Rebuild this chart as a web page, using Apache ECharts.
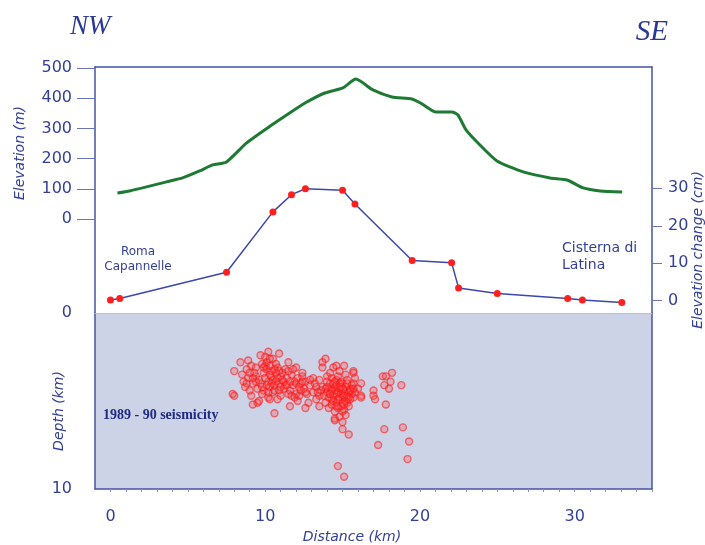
<!DOCTYPE html>
<html>
<head>
<meta charset="utf-8">
<script src="https://cdn.jsdelivr.net/npm/echarts@6/dist/echarts.min.js"></script>
<style>
  html, body { margin: 0; padding: 0; background: #fff; }
  #chart { width: 705px; height: 545px; }
</style>
</head>
<body>
<div id="chart"></div>
<script>
// topography along the profile
const elevDist = [0.45, 1.23, 2.07, 3.62, 4.66, 5.76, 6.6, 7.5, 8.8, 10.42, 11.58, 12.69, 13.85, 15.02, 15.86,
	16.96, 18.19, 19.48, 20.13, 21.04, 22.07, 22.46, 22.98, 23.88, 24.98, 26.67, 28.41, 29.51, 30.55, 31.65, 33.07];
const elevM = [86, 93, 103, 123, 136, 159, 179, 189, 252, 311, 351, 387, 417, 434, 463,
	427, 404, 397, 381, 354, 354, 344, 295, 245, 192, 156, 136, 129, 103, 93, 89];

// levelling benchmarks
const levelDist = [0.0, 0.6, 7.5, 10.5, 11.7, 12.6, 15.0, 15.8, 19.5, 22.05, 22.5, 25.0, 29.55, 30.5, 33.05];
const levelCm = [0.2, 0.6, 7.6, 23.7, 28.3, 29.9, 29.5, 25.8, 10.7, 10.1, 3.4, 1.9, 0.6, 0.2, -0.5];

// 1989-90 hypocentres [distance km, depth km]
const quakes = [
	[10.2,2.2],[8.4,2.8],[8.0,3.3],[8.9,2.7],[9.7,2.4],[10.5,2.6],[10.9,2.3],[11.5,2.8],[12.0,3.1],[9.1,3.0],
	[9.4,3.1],[10.0,3.0],[10.8,3.1],[8.5,3.5],[8.9,3.7],[9.4,3.6],[9.9,3.4],[10.4,3.6],[10.8,3.7],[11.1,3.4],
	[11.7,3.5],[12.1,3.7],[9.2,4.0],[9.7,4.0],[10.2,3.9],[10.6,4.1],[11.3,4.1],[11.8,4.1],[12.2,4.2],[8.7,4.2],
	[9.5,4.3],[9.9,4.4],[10.9,4.4],[11.6,4.4],[12.0,4.6],[7.9,4.6],[8.0,4.7],[9.1,4.7],[10.2,4.8],[10.3,4.9],
	[11.0,4.7],[11.9,4.8],[9.5,5.1],[9.2,5.2],[11.6,5.3],[10.6,5.7],
	[10.1,3.2],[10.4,3.3],[10.7,3.4],[11.0,3.6],[10.3,4.2],[10.5,3.8],[11.2,3.9],[10.0,3.7],[9.6,3.8],[11.4,3.7],
	[11.3,3.2],[10.7,2.9],[10.1,2.8],[9.3,3.4],[8.8,3.2],[9.0,4.4],[11.9,3.9],[12.3,4.0],[12.5,4.3],[12.4,3.6],
	[11.5,4.6],[10.8,4.9],[9.8,4.6],[10.5,4.5],[11.8,3.2],[9.8,2.9],[10.0,2.5],[10.3,2.6],[8.6,3.9],[9.6,5.0],
	[12.1,5.0],[12.7,4.6],[11.2,4.3],[10.9,4.0],[12.6,3.9],
	[9.9,3.1],[10.3,3.5],[10.6,3.2],[10.9,3.3],[11.1,3.8],[10.7,3.9],[10.4,4.0],[10.1,4.1],[9.8,4.2],[11.4,4.1],
	[11.0,4.2],[10.6,4.4],[10.2,4.5],[9.4,3.9],[11.6,3.9],[12.0,4.0],[11.7,4.7],[12.3,4.4],[9.2,3.7],[10.3,3.0],
	[11.5,3.3],[8.8,4.0],[9.0,3.4],
	[12.4,3.4],[12.4,3.9],[13.1,3.7],[13.5,3.8],[12.9,4.1],[13.3,4.2],[12.2,4.7],[12.6,4.5],[13.1,4.5],[13.5,4.7],
	[12.8,5.1],[13.3,4.9],[12.6,5.4],[13.5,5.3],
	[13.9,2.6],[13.7,2.8],[13.7,3.1],[14.4,3.1],[14.6,3.0],[15.1,3.0],[14.8,3.3],[15.7,3.3],[14.0,3.6],[14.3,3.7],
	[14.6,3.8],[14.9,3.9],[15.3,3.8],[15.7,4.0],[16.2,4.0],[13.7,4.2],[14.2,4.3],[14.5,4.2],[14.8,4.3],[15.1,4.4],
	[15.5,4.3],[15.8,4.5],[14.0,4.5],[14.4,4.7],[14.7,4.5],[15.0,4.8],[15.3,4.7],[15.7,4.8],[16.2,4.7],[13.9,5.1],
	[14.3,4.9],[14.6,5.1],[15.0,5.1],[15.3,5.1],[14.1,5.4],[14.7,5.4],[15.0,5.6],[15.1,5.5],[14.5,6.0],
	[14.2,4.0],[14.5,4.4],[14.9,4.6],[15.2,4.2],[14.6,4.1],[14.8,4.8],[15.4,4.5],[14.1,4.8],[14.4,4.0],[15.0,4.0],
	[15.6,4.6],[14.7,3.6],[15.2,3.5],[15.5,4.9],[14.3,5.2],[14.9,5.3],[15.6,4.1],[13.9,4.3],[14.0,3.9],[15.8,3.7],
	[16.0,4.3],[14.2,3.4],[13.8,4.7],[15.4,5.3],[14.5,5.6],[15.2,5.8],[14.8,5.9],
	[14.3,4.4],[14.6,4.6],[15.0,4.3],[15.3,4.0],[14.8,4.0],[14.5,3.9],[15.1,4.7],[14.7,4.9],[15.4,4.8],[14.2,4.6],
	[15.2,5.0],[14.9,4.2],[15.5,4.4],[14.4,5.0],[14.0,4.2],[15.7,4.3],[13.6,4.4],[13.2,4.0],[12.9,3.8],[13.4,4.5],
	[14.6,5.3],[15.1,5.2],
	[15.7,3.4],[16.2,4.8],[17.0,4.4],[17.0,4.7],[17.1,4.9],[17.6,3.6],[17.8,3.6],[18.2,3.4],[17.7,4.1],[18.0,4.3],
	[18.1,3.9],[18.8,4.1],[17.8,5.2],[14.5,6.1],[15.0,6.2],[15.0,6.6],[15.4,6.9],[17.7,6.6],[18.9,6.5],[17.3,7.5],
	[19.3,7.3],[19.2,8.3],[14.7,8.7],[15.1,9.3]
];

const distLabels = [0, 10, 20, 30];
const elevTicks = [0, 100, 200, 300, 400, 500];
const changeTicks = [0, 10, 20, 30];
const depthTicks = [0, 10];
const kmTicks = [];
for (let k = 0; k <= 35; k++) kmTicks.push(k);

const axisBlue = '#4653a6';
const textBlue = '#323f98';
const sans = 'DejaVu Sans';

function zip(a, b) {
	return a.map((v, i) => [v, b[i]]);
}

const chart = echarts.init(document.getElementById('chart'));

chart.setOption({
	animation: false,
	backgroundColor: '#fff',
	grid: [
		{left: 95, top: 67, width: 557, height: 246, show: false},
		{left: 95, top: 313, width: 557, height: 176, show: true, borderWidth: 0, backgroundColor: '#cdd3e7'}
	],
	xAxis: [
		{
			gridIndex: 0, type: 'value', min: -1, max: 35, position: 'top',
			axisLine: {show: true, onZero: false, lineStyle: {color: axisBlue, width: 1.5}},
			axisTick: {show: false}, axisLabel: {show: false}, splitLine: {show: false}
		},
		{
			gridIndex: 1, type: 'value', min: -1, max: 35, position: 'bottom',
			axisLine: {show: true, onZero: false, lineStyle: {color: axisBlue, width: 1.5}},
			axisTick: {show: true, length: 3, customValues: kmTicks, lineStyle: {color: '#8b93c4'}},
			axisLabel: {customValues: distLabels, margin: 20, color: textBlue, fontFamily: sans, fontSize: 16},
			splitLine: {show: false}
		},
		{
			gridIndex: 1, type: 'value', min: -1, max: 35, position: 'top',
			axisLine: {show: true, onZero: false, lineStyle: {color: '#b8bcc8', width: 1, type: 'dotted'}},
			axisTick: {show: false}, axisLabel: {show: false}, splitLine: {show: false}
		}
	],
	yAxis: [
		{
			gridIndex: 0, type: 'value', min: -311, max: 503, position: 'left',
			axisLine: {show: true, onZero: false, lineStyle: {color: axisBlue, width: 1.5}},
			axisTick: {show: true, length: 18, customValues: elevTicks, lineStyle: {color: '#6a75b8'}},
			axisLabel: {customValues: elevTicks, margin: 23, color: textBlue, fontFamily: sans, fontSize: 16},
			splitLine: {show: false}
		},
		{
			gridIndex: 0, type: 'value', min: -3.3, max: 62.4, position: 'right',
			axisLine: {show: true, onZero: false, lineStyle: {color: axisBlue, width: 1.5}},
			axisTick: {show: true, length: 10, customValues: changeTicks, lineStyle: {color: '#6a75b8'}},
			axisLabel: {customValues: changeTicks, margin: 16, color: textBlue, fontFamily: sans, fontSize: 16},
			splitLine: {show: false}
		},
		{
			gridIndex: 1, type: 'value', min: 0, max: 10, inverse: true, position: 'left',
			axisLine: {show: true, onZero: false, lineStyle: {color: axisBlue, width: 1.5}},
			axisTick: {show: false},
			axisLabel: {customValues: depthTicks, margin: 23, color: textBlue, fontFamily: sans, fontSize: 16},
			splitLine: {show: false}
		},
		{
			gridIndex: 1, type: 'value', min: 0, max: 10, inverse: true, position: 'right',
			axisLine: {show: true, onZero: false, lineStyle: {color: axisBlue, width: 1.5}},
			axisTick: {show: false}, axisLabel: {show: false}, splitLine: {show: false}
		}
	],
	series: [
		{
			name: 'Elevation', type: 'line', xAxisIndex: 0, yAxisIndex: 0,
			data: zip(elevDist, elevM), showSymbol: false, smooth: 0.2,
			lineStyle: {color: '#1e7a33', width: 3}
		},
		{
			name: 'Elevation change', type: 'line', xAxisIndex: 0, yAxisIndex: 1,
			data: zip(levelDist, levelCm), symbol: 'circle', symbolSize: 7,
			itemStyle: {color: '#ff1f1f'},
			lineStyle: {color: '#3a48ad', width: 1.5}
		},
		{
			name: 'Seismicity', type: 'scatter', xAxisIndex: 1, yAxisIndex: 2,
			data: quakes, symbol: 'circle', symbolSize: 7,
			itemStyle: {color: 'rgba(255,60,60,0.35)', borderColor: 'rgba(255,20,20,0.7)', borderWidth: 1.4}
		}
	],
	graphic: [
		{type: 'text', x: 70, y: 27, style: {text: 'NW', font: 'italic 27px "Liberation Serif"', fill: '#2b3893', textVerticalAlign: 'middle'}},
		{type: 'text', x: 668, y: 32, style: {text: 'SE', font: 'italic 29px "Liberation Serif"', fill: '#2b3893', textAlign: 'right', textVerticalAlign: 'middle'}},
		{type: 'text', x: 20, y: 153, rotation: Math.PI / 2, style: {text: 'Elevation (m)', font: 'italic 14px "DejaVu Sans"', fill: textBlue, textAlign: 'center', textVerticalAlign: 'middle'}},
		{type: 'text', x: 59, y: 411, rotation: Math.PI / 2, style: {text: 'Depth (km)', font: 'italic 14px "DejaVu Sans"', fill: textBlue, textAlign: 'center', textVerticalAlign: 'middle'}},
		{type: 'text', x: 698, y: 250, rotation: Math.PI / 2, style: {text: 'Elevation change (cm)', font: 'italic 14px "DejaVu Sans"', fill: textBlue, textAlign: 'center', textVerticalAlign: 'middle'}},
		{type: 'text', x: 352, y: 537, style: {text: 'Distance (km)', font: 'italic 14px "DejaVu Sans"', fill: textBlue, textAlign: 'center', textVerticalAlign: 'middle'}},
		{type: 'text', x: 138, y: 252, style: {text: 'Roma', font: '12px "DejaVu Sans"', fill: textBlue, textAlign: 'center', textVerticalAlign: 'middle'}},
		{type: 'text', x: 138, y: 267, style: {text: 'Capannelle', font: '12px "DejaVu Sans"', fill: textBlue, textAlign: 'center', textVerticalAlign: 'middle'}},
		{type: 'text', x: 562, y: 248, style: {text: 'Cisterna di', font: '14px "DejaVu Sans"', fill: textBlue, textVerticalAlign: 'middle'}},
		{type: 'text', x: 562, y: 265, style: {text: 'Latina', font: '14px "DejaVu Sans"', fill: textBlue, textVerticalAlign: 'middle'}},
		{type: 'text', x: 103, y: 415, style: {text: '1989 - 90 seismicity', font: 'bold 14px "Liberation Serif"', fill: '#1f2b82', textVerticalAlign: 'middle'}}
	]
});
</script>
</body>
</html>
